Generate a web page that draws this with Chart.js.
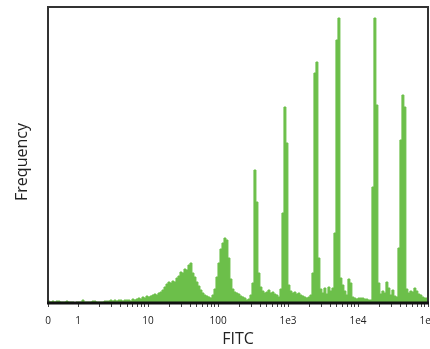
<!DOCTYPE html>
<html>
<head>
<meta charset="utf-8">
<script src="https://cdn.jsdelivr.net/npm/chart.js@4/dist/chart.umd.min.js"></script>
<style>
  body { margin: 0; background: #fff; }
  canvas { display: block; }
</style>
</head>
<body>
<canvas id="histChart" width="430" height="349"></canvas>
<script>
// FITC tick positions and their labels
const fitcTicks = [0, 1, 10, 100, 1000, 10000, 100000];
const fitcTickLabels = ['0', '1', '10', '100', '1e3', '1e4', '1e5'];

// histogram counts, one per channel (35 channels per decade on the display axis)
const channelsPerDecade = 35;
const frequency = [
    2, 2, 1, 2, 1, 2, 2, 1, 1, 1,
    2, 1, 1, 1, 0.5, 1, 1, 1, 3, 1,
    1, 1, 1, 2, 2, 1, 1, 1, 1, 2,
    2, 2, 3, 2, 3, 2, 3, 3, 2, 3,
    3, 3, 2, 4, 3, 4, 5, 4, 6, 5,
    7, 6, 7, 8, 9, 8, 10, 11, 13, 16,
    19, 21, 20, 22, 21, 25, 27, 31, 30, 34,
    33, 38, 40, 30, 26, 21, 17, 13, 10, 8,
    7, 6, 5, 8, 14, 26, 40, 54, 60, 65,
    63, 45, 24, 14, 11, 10, 9, 7, 6, 5,
    3, 4, 8, 20, 133, 101, 30, 16, 12, 10,
    11, 13, 10, 11, 9, 8, 6, 14, 90, 196,
    160, 18, 12, 10, 11, 9, 10, 8, 7, 6,
    5, 6, 8, 30, 230, 241, 45, 14, 10, 15,
    9, 16, 12, 15, 70, 263, 285, 25, 18, 12,
    8, 24, 20, 6, 5, 4, 5, 5, 5, 4,
    4, 3, 3, 116, 285, 198, 20, 9, 12, 10,
    21, 15, 8, 13, 7, 6, 55, 163, 208, 196,
    14, 10, 12, 11, 15, 12, 9, 8, 6, 5
];

const yTitle = 'Frequency';
const xTitle = 'FITC';

// biexponential-like display: 0..1 squeezed into the first 0.43 decade
function fitcToAxis(v) {
    return v < 1 ? v * 0.43 : Math.log10(v) + 0.43;
}

const points = frequency.map(function (f, i) {
    return { x: i / channelsPerDecade, y: f };
});
points.push({ x: frequency.length / channelsPerDecade, y: frequency[frequency.length - 1] });

const axisMax = fitcToAxis(100000);

// major + minor tick positions
const tickValues = [];
const tickLabelByValue = {};
fitcTicks.forEach(function (t, i) {
    const u = fitcToAxis(t);
    tickValues.push(u);
    tickLabelByValue[u.toFixed(4)] = fitcTickLabels[i];
});
[1, 10, 100, 1000, 10000].forEach(function (d) {
    for (let m = 2; m <= 9; m++) tickValues.push(fitcToAxis(m * d));
});
tickValues.sort(function (a, b) { return a - b; });

// box around the plot + vertical axis title (sits a bit below centre in the original)
const framePlugin = {
    id: 'frame',
    afterDatasetsDraw(chart) {
        const a = chart.chartArea;
        const ctx = chart.ctx;
        ctx.save();
        ctx.strokeStyle = '#333';
        ctx.lineWidth = 2;
        ctx.strokeRect(a.left, a.top, a.right - a.left, a.bottom - a.top);
        ctx.strokeStyle = '#111';
        ctx.lineWidth = 3;
        ctx.beginPath();
        ctx.moveTo(a.left - 1, a.bottom);
        ctx.lineTo(a.right + 1, a.bottom);
        ctx.stroke();

        ctx.translate(22, 162);
        ctx.rotate(-Math.PI / 2);
        ctx.fillStyle = '#222';
        ctx.font = '16px "Open Sans"';
        ctx.textAlign = 'center';
        ctx.textBaseline = 'middle';
        ctx.fillText(yTitle, 0, 0);
        ctx.restore();
    }
};

const ctx = document.getElementById('histChart').getContext('2d');
new Chart(ctx, {
    type: 'line',
    data: {
        datasets: [{
            label: xTitle,
            data: points,
            stepped: 'after',
            fill: 'origin',
            backgroundColor: '#6cbf4a',
            borderColor: '#6cbf4a',
            borderWidth: 1,
            pointRadius: 0
        }]
    },
    options: {
        responsive: false,
        animation: false,
        devicePixelRatio: 1,
        layout: { padding: { top: 7, right: 2, left: 0, bottom: 0 } },
        plugins: {
            legend: { display: false },
            tooltip: { enabled: false }
        },
        scales: {
            x: {
                type: 'linear',
                min: 0,
                max: axisMax,
                afterBuildTicks: function (scale) {
                    scale.ticks = tickValues.map(function (v) { return { value: v }; });
                },
                afterFit: function (scale) {
                    scale.height = 46;
                    scale.paddingLeft = 0;
                    scale.paddingRight = 0;
                },
                ticks: {
                    autoSkip: false,
                    maxRotation: 0,
                    padding: 8,
                    color: '#222',
                    font: { family: 'Open Sans', size: 10 },
                    callback: function (v) {
                        return tickLabelByValue[Number(v).toFixed(4)] || '';
                    }
                },
                grid: {
                    display: true,
                    drawOnChartArea: false,
                    drawTicks: true,
                    tickLength: 4,
                    color: '#444'
                },
                border: { display: false },
                title: {
                    display: true,
                    text: xTitle,
                    color: '#222',
                    font: { family: 'Open Sans', size: 16 },
                    padding: { top: 0, bottom: 0 }
                }
            },
            y: {
                min: 0,
                max: 296,
                afterFit: function (scale) {
                    scale.width = 48;
                },
                ticks: { display: false },
                grid: { display: false },
                border: { display: false },
                title: { display: false }
            }
        }
    },
    plugins: [framePlugin]
});
</script>
</body>
</html>
